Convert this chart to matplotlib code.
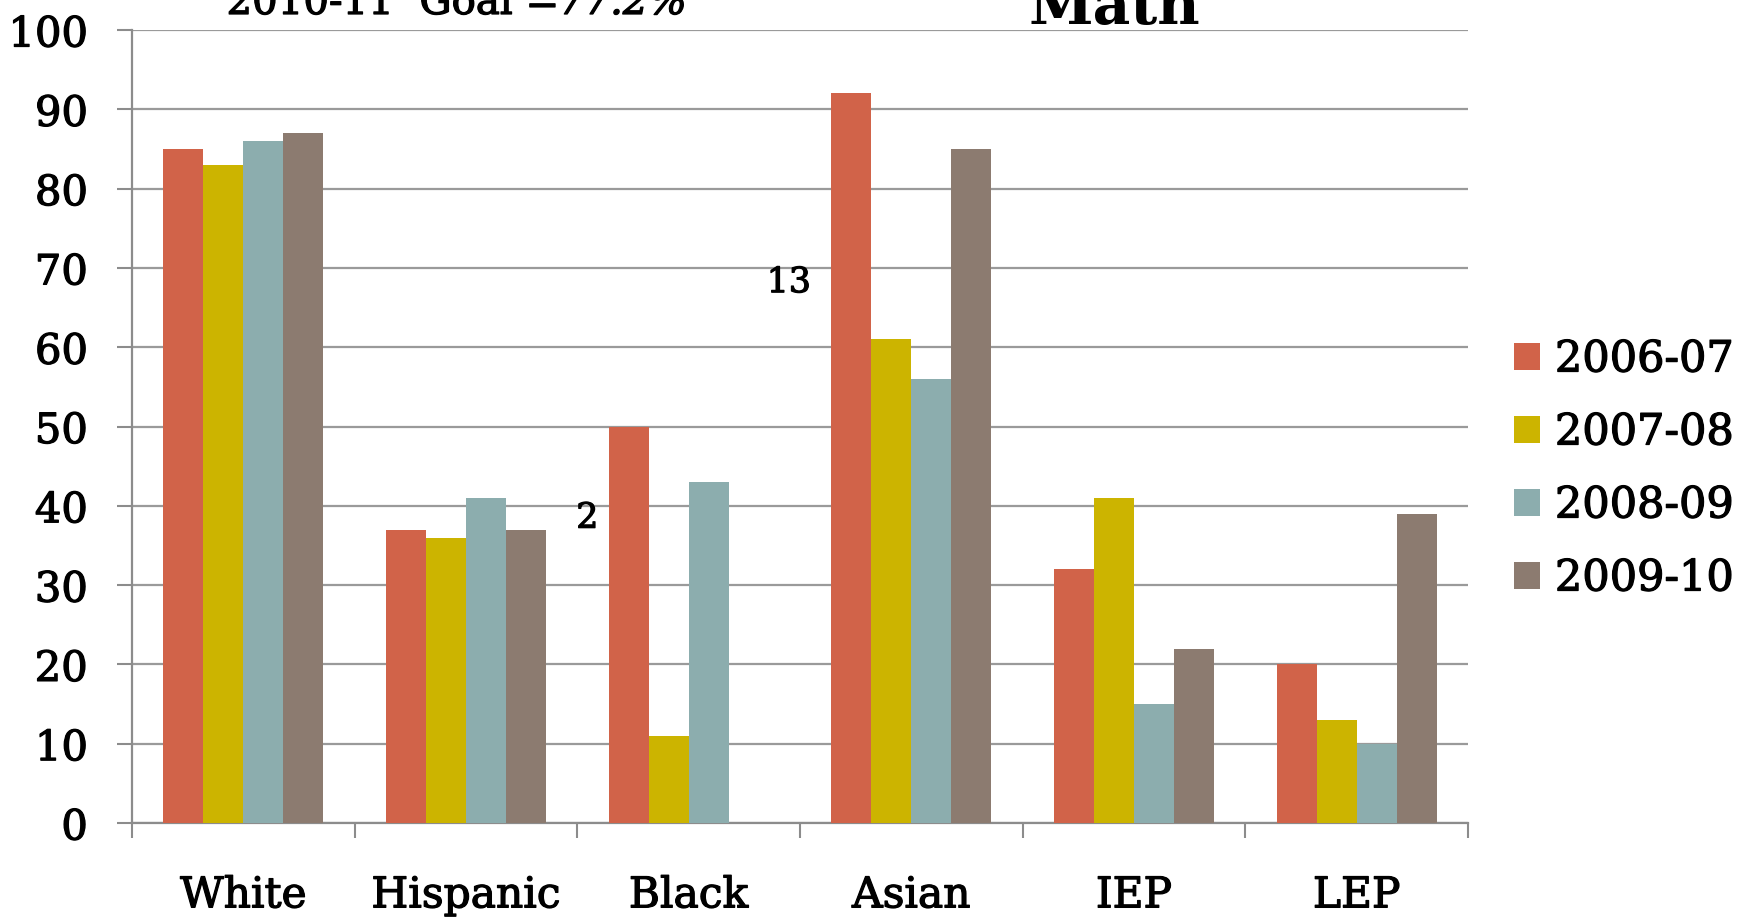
import matplotlib
matplotlib.use("Agg")
import matplotlib.pyplot as plt
import matplotlib.patheffects as pe
import numpy as np

categories = ["White", "Hispanic", "Black", "Asian", "IEP", "LEP"]
years = ["2006-07", "2007-08", "2008-09", "2009-10"]
values_2006_07 = [85, 37, 50, 92, 32, 20]
values_2007_08 = [83, 36, 11, 61, 41, 13]
values_2008_09 = [86, 41, 43, 56, 15, 10]
values_2009_10 = [87, 37, np.nan, 85, 22, 39]
series = [values_2006_07, values_2007_08, values_2008_09, values_2009_10]
colors = ["#D16349", "#CCB400", "#8CADAE", "#8C7B70"]
y_ticks = [0, 10, 20, 30, 40, 50, 60, 70, 80, 90, 100]

plt.rcParams["font.family"] = ["DejaVu Serif"]

# slightly heavier strokes for all text
heavy = [pe.withStroke(linewidth=0.9, foreground="black")]

fig = plt.figure(figsize=(17.42, 9.2), dpi=100)
ax = fig.add_axes([132 / 1742, 1 - 824 / 920, (1468 - 132) / 1742, (824 - 31) / 920])

x = np.arange(len(categories))
width = 0.18
for i, (vals, col, lab) in enumerate(zip(series, colors, years)):
    ax.bar(x + (i - 1.5) * width, vals, width=width, color=col, label=lab, zorder=3)

ax.set_xlim(-0.5, len(categories) - 0.5)
ax.set_ylim(0, 100)
ax.set_yticks(y_ticks)
ax.set_yticklabels([str(t) for t in y_ticks], fontsize=30)

# category boundaries carry the tick marks, centres carry the labels
ax.set_xticks(np.arange(-0.5, len(categories), 1.0))
ax.set_xticklabels([])
ax.set_xticks(x, minor=True)
ax.set_xticklabels(categories, minor=True, fontsize=30.5)
ax.tick_params(axis="x", which="major", length=10.5, width=1.5, color="#8c8c8c", direction="out")
ax.tick_params(axis="x", which="minor", length=0, pad=37)
ax.tick_params(axis="y", length=10.8, width=1.5, color="#8c8c8c", direction="out", pad=21)

for lbl in ax.get_yticklabels() + ax.get_xticklabels(minor=True):
    lbl.set_path_effects(heavy)

ax.grid(axis="y", color="#9a9a9a", linewidth=1.6, zorder=0)
for side in ["top", "right"]:
    ax.spines[side].set_visible(False)
for side in ["left", "bottom"]:
    ax.spines[side].set_color("#8c8c8c")
    ax.spines[side].set_linewidth(1.6)

# stray point labels
ax.text(1.545, 38.5, "2", fontsize=25, ha="center", va="center", path_effects=heavy)
ax.text(2.45, 68.2, "13", fontsize=25, ha="center", va="center", path_effects=heavy)

leg = ax.legend(loc="center left", bbox_to_anchor=(1514 / 1742, 1 - 470 / 920),
                bbox_transform=fig.transFigure, frameon=False, fontsize=31,
                handlelength=0.6, handleheight=0.6, handletextpad=0.35,
                labelspacing=0.72, borderaxespad=0, borderpad=0)
for t in leg.get_texts():
    t.set_path_effects(heavy)

goal = fig.text(0.130, 1 - 15 / 920, "2010-11  Goal =", fontsize=29, va="baseline",
                ha="left", path_effects=heavy)
ax.annotate("77.2%", xy=(1, 0), xycoords=goal, fontsize=29, style="italic",
            va="bottom", ha="left", path_effects=heavy)
fig.text(1114 / 1742, 1 - 24 / 920, "Math", fontsize=42, fontweight="bold",
         ha="center", va="baseline")

fig.savefig("out.png", dpi=100)
